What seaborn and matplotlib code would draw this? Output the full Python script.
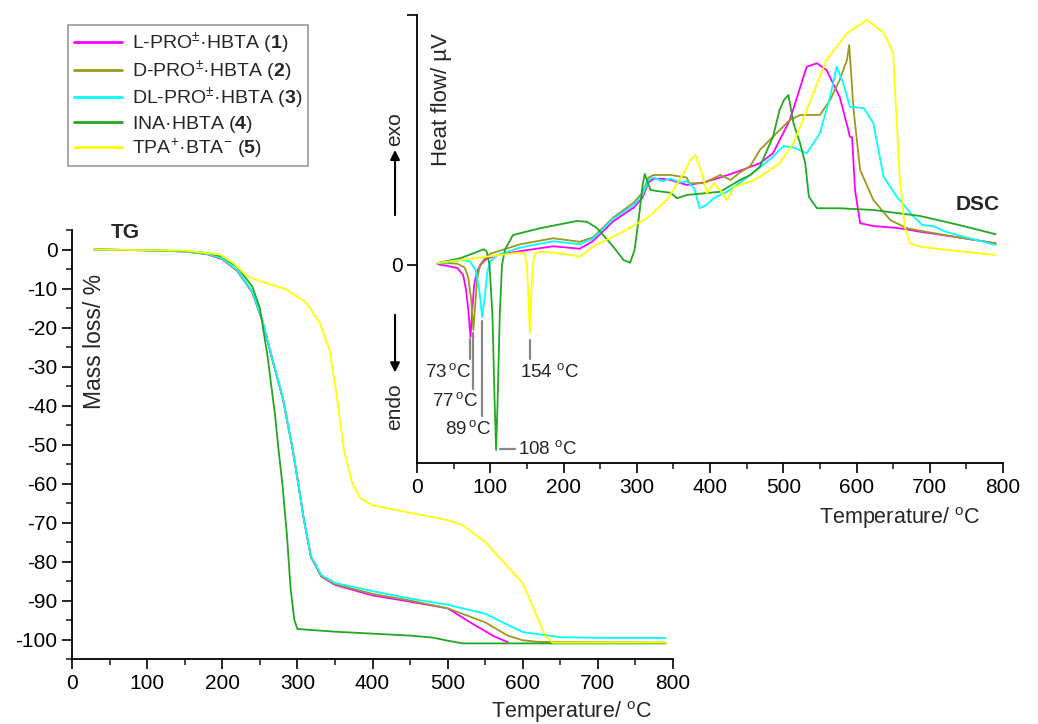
import numpy as np
import pandas as pd
import matplotlib
matplotlib.use("Agg")
import matplotlib.pyplot as plt
from matplotlib.lines import Line2D
from matplotlib.ticker import MultipleLocator, FixedLocator
import seaborn as sns

sns.set_theme(style="ticks")
plt.rcParams['font.family'] = ['Liberation Sans', 'DejaVu Sans']
plt.rcParams['mathtext.fontset'] = 'custom'
plt.rcParams['mathtext.rm'] = 'Liberation Sans'
plt.rcParams['mathtext.bf'] = 'Liberation Sans:bold'
plt.rcParams['mathtext.it'] = 'Liberation Sans:italic'
plt.rcParams['axes.unicode_minus'] = False

# ---------------- data ----------------
samples = ["1", "2", "3", "4", "5"]
labels = [r"L-PRO$\mathregular{^{\pm}}$·HBTA ($\mathbf{1}$)",
          r"D-PRO$\mathregular{^{\pm}}$·HBTA ($\mathbf{2}$)",
          r"DL-PRO$\mathregular{^{\pm}}$·HBTA ($\mathbf{3}$)",
          r"INA·HBTA ($\mathbf{4}$)",
          r"TPA$\mathregular{^{+}}$·BTA$\mathregular{^{-}}$ ($\mathbf{5}$)"]
colors = ["#FF00FF", "#9A9A22", "#00FFFF", "#22A822", "#FFFF00"]

# TG (mass loss %)
tg_T1 = [30, 100, 150, 180, 200, 220, 240, 253, 265, 281, 294, 302, 308, 318, 332, 350, 400, 450, 500, 530, 560, 580]
tg_m1 = [0, -0.2, -0.5, -1.2, -2.5, -5.5, -11, -18, -27, -38.5, -51.5, -61, -68.5, -78.8, -83.9, -86, -88.7, -90.3, -92, -95.6, -99, -100.7]
tg_T2 = [30, 100, 150, 180, 200, 220, 240, 253, 265, 281, 294, 302, 308, 318, 332, 350, 400, 450, 500, 550, 580, 600, 620, 790]
tg_m2 = [0, -0.2, -0.5, -1.2, -2.4, -5.4, -11, -18, -27, -38.5, -51.5, -61, -68.5, -78.8, -83.8, -85.8, -88.3, -90, -92, -95.6, -99, -100.2, -100.6, -100.8]
tg_T3 = [30, 100, 150, 180, 200, 220, 240, 253, 265, 281, 294, 302, 308, 318, 332, 350, 400, 450, 500, 550, 600, 650, 700, 790]
tg_m3 = [0, -0.2, -0.5, -1.1, -2.3, -5.3, -10.8, -17.8, -26.8, -38.3, -51.5, -61, -68.5, -78.6, -83.5, -85.5, -87.6, -89.5, -91.1, -93.4, -98.1, -99.4, -99.6, -99.6]
tg_T4 = [30, 100, 150, 180, 200, 220, 240, 250, 260, 270, 275, 280, 286, 291, 296, 300, 350, 400, 450, 480, 500, 520, 790]
tg_m4 = [0, -0.2, -0.4, -0.9, -1.8, -4.5, -9.5, -15, -27, -42, -51.5, -60, -73, -87, -95, -97.3, -98, -98.5, -99, -99.5, -100.3, -101, -101]
tg_T5 = [30, 150, 197, 215, 233, 250, 270, 286, 312, 330, 343, 352, 362, 373, 384, 400, 450, 500, 520, 550, 600, 630, 640, 790]
tg_m5 = [0, -0.3, -1.3, -3.5, -6.9, -8.1, -9.3, -10.3, -13.7, -18.9, -26, -37, -51.5, -60, -63.8, -65.6, -67.5, -69.4, -70.7, -75, -85.6, -99.1, -100.8, -100.8]

# DSC (heat flow, arbitrary units)
dsc_T1 = [28, 40, 55, 63, 67, 70, 73, 75, 78, 82, 88, 95, 110, 140, 186, 222, 240, 268, 296, 308, 316, 323, 335, 346, 368, 380, 391, 414, 441, 468, 486, 509, 532, 546, 559, 577, 588, 591, 594, 598, 605, 623, 659, 687, 740, 790]
dsc_u1 = [0.3, -0.3, -1.2, -4, -10, -18, -28.8, -20, -8, -2.5, 0.5, 2.5, 4, 5.5, 7.5, 6.5, 9.5, 17.5, 23, 27, 33, 34.5, 34.5, 34, 32, 32.5, 33, 35, 37.7, 40.7, 44.7, 58, 79.3, 80.7, 78, 67.3, 55, 51.3, 51, 30, 16.7, 15.6, 14.7, 13.3, 11, 8.7]
dsc_T2 = [28, 40, 55, 65, 70, 74, 77, 79, 82, 86, 92, 100, 141, 186, 222, 240, 268, 296, 308, 316, 323, 346, 368, 372, 391, 414, 428, 441, 455, 468, 486, 509, 523, 550, 564, 577, 587, 590, 596, 605, 623, 646, 669, 687, 740, 790]
dsc_u2 = [0.6, 0.8, 0.5, -1, -5, -14, -26, -18, -6, 0, 2.5, 4.5, 8.3, 10.7, 9.3, 11, 19, 25, 29, 35, 36, 36, 35, 32.7, 32.7, 36, 34, 37, 39.6, 46, 51.3, 58, 60, 60, 66, 74, 82, 88, 62, 38, 26, 18, 14.7, 13.7, 11, 8.7]
dsc_T3 = [28, 45, 60, 72, 80, 85, 89, 92, 96, 100, 110, 141, 186, 222, 240, 268, 296, 308, 316, 323, 335, 346, 360, 368, 378, 386, 395, 405, 423, 441, 455, 486, 500, 514, 532, 550, 564, 573, 582, 591, 610, 623, 637, 655, 678, 690, 705, 720, 750, 790]
dsc_u3 = [0.6, 1.2, 2, 1.5, -2, -10, -20.8, -14, -3, 1.5, 4, 7, 9.5, 8.3, 10.5, 18.5, 24, 28, 34, 35, 33.5, 34.5, 33, 33.5, 31, 22.7, 24, 26.7, 29.3, 33, 36, 43.3, 47.6, 47, 44.7, 52.7, 67.3, 79.3, 72.7, 63.3, 62.7, 56.7, 35.3, 27.3, 19.3, 16, 15.5, 13.5, 11, 8]
dsc_T4 = [28, 59, 80, 91, 95, 99, 103, 106, 108, 110, 113, 116, 120, 131, 168, 218, 232, 246, 268, 282, 291, 297, 303, 308, 311, 315, 319, 330, 346, 355, 368, 414, 441, 455, 468, 486, 495, 501, 507, 514, 523, 530, 535, 546, 577, 623, 687, 740, 790]
dsc_u4 = [0.8, 2.7, 5, 6.3, 5.5, 0, -20, -55, -74, -55, -20, 0, 6, 12, 14.7, 17.6, 17.3, 14.7, 7.3, 2, 0.9, 6, 19.3, 32, 36.4, 33, 30, 29.5, 28.9, 26.7, 28, 29.3, 34, 36, 39.3, 51.3, 62, 66, 68, 56.7, 48.7, 40.7, 27.3, 22.7, 22.7, 22, 19.6, 16, 12.3]
dsc_T5 = [28, 60, 100, 140, 147, 150, 152, 154, 156, 158, 161, 168, 186, 210, 222, 240, 277, 314, 341, 364, 373, 380, 389, 396, 405, 414, 423, 433, 455, 468, 495, 514, 532, 559, 587, 614, 637, 650, 654, 659, 666, 673, 687, 740, 790]
dsc_u5 = [0.8, 2, 3.5, 5, 4.5, 0, -12, -27.2, -12, 0, 4.5, 5.3, 5, 4, 3.3, 7.3, 12.7, 18.7, 26, 36.7, 42, 44, 36.7, 28.7, 32.7, 30, 26, 31.3, 33.3, 35.3, 40.7, 48.7, 62, 82, 92.7, 98, 93, 84.7, 62, 35.3, 15.3, 8.7, 7.3, 5.5, 4]

peak_T = [73, 77, 89, 108, 154]
peak_u = [-28.8, -26, -20.8, -74, -27.2]

tick_x = [0, 100, 200, 300, 400, 500, 600, 700, 800]
tick_tg = [0, -10, -20, -30, -40, -50, -60, -70, -80, -90, -100]

tg_df = pd.concat([pd.DataFrame({"T": t, "m": m, "s": s}) for t, m, s in
                   zip([tg_T1, tg_T2, tg_T3, tg_T4, tg_T5], [tg_m1, tg_m2, tg_m3, tg_m4, tg_m5], samples)])
dsc_df = pd.concat([pd.DataFrame({"T": t, "u": u, "s": s}) for t, u, s in
                    zip([dsc_T1, dsc_T2, dsc_T3, dsc_T4, dsc_T5], [dsc_u1, dsc_u2, dsc_u3, dsc_u4, dsc_u5], samples)])
pal = dict(zip(samples, colors))

W, H = 1038, 724
fig = plt.figure(figsize=(W / 100, H / 100), dpi=100)
fig.patch.set_facecolor("white")

def frac(l, t, r, b):
    return [l / W, 1 - b / H, (r - l) / W, (b - t) / H]

ax_tg = fig.add_axes(frac(72, 230, 673, 659))
ax_dsc = fig.add_axes(frac(417, 15, 1003, 463))
for ax in (ax_tg, ax_dsc):
    ax.set_facecolor("none")
    for sp in ("top", "right"):
        ax.spines[sp].set_visible(False)
    for sp in ("left", "bottom"):
        ax.spines[sp].set_linewidth(1.3)
        ax.spines[sp].set_color("black")
    ax.tick_params(which="major", direction="out", length=7.5, width=1.2, labelsize=15, colors="black", pad=3)
    ax.tick_params(which="minor", direction="out", length=4.5, width=1.2)
    ax.set_xlim(0, 800)
    ax.xaxis.set_major_locator(FixedLocator(tick_x))
    ax.xaxis.set_minor_locator(MultipleLocator(50))

# TG
sns.lineplot(data=tg_df, x="T", y="m", hue="s", palette=pal, estimator=None, sort=False,
             linewidth=1.3, legend=False, ax=ax_tg)
ax_tg.set_ylim(-105, 5)
ax_tg.yaxis.set_major_locator(FixedLocator(tick_tg))
ax_tg.yaxis.set_minor_locator(MultipleLocator(5))
ax_tg.set_xlabel("")
ax_tg.set_ylabel("")
ax_tg.text(0.965, -(718 - 659) / 429, r"Temperature/ $\mathregular{^{o}}$C", transform=ax_tg.transAxes,
           ha="right", va="baseline", fontsize=15.5)
ax_tg.text(0.038, 0.74, "Mass loss/ %", transform=ax_tg.transAxes, rotation=90,
           ha="center", va="center", fontsize=16.5)
ax_tg.text(0.088, 0.995, "TG", transform=ax_tg.transAxes, ha="center", va="center",
           fontsize=15, fontweight="bold")

# DSC
sns.lineplot(data=dsc_df, x="T", y="u", hue="s", palette=pal, estimator=None, sort=False,
             linewidth=1.3, legend=False, ax=ax_dsc)
ax_dsc.set_ylim(-79.2, 100)
ax_dsc.yaxis.set_major_locator(FixedLocator([0, 100]))
ax_dsc.set_yticklabels(["0", ""])
ax_dsc.set_xlabel("")
ax_dsc.set_ylabel("")
ax_dsc.text(0.961, -(524 - 463) / 448, r"Temperature/ $\mathregular{^{o}}$C", transform=ax_dsc.transAxes,
            ha="right", va="baseline", fontsize=15.5)
ax_dsc.text(0.041, 0.812, r"Heat flow/ µV", transform=ax_dsc.transAxes, rotation=90,
            ha="center", va="center", fontsize=16)
ax_dsc.text(0.956, 0.576, "DSC", transform=ax_dsc.transAxes, ha="center", va="center",
            fontsize=15, fontweight="bold")

# exo / endo arrows
ax_dsc.annotate("", xy=(-0.0375, 0.705), xytext=(-0.0375, 0.547), xycoords="axes fraction",
                arrowprops=dict(arrowstyle="-|>", color="black", lw=1.5, mutation_scale=14),
                annotation_clip=False)
ax_dsc.annotate("", xy=(-0.0375, 0.196), xytext=(-0.0375, 0.337), xycoords="axes fraction",
                arrowprops=dict(arrowstyle="-|>", color="black", lw=1.5, mutation_scale=14),
                annotation_clip=False)
ax_dsc.text(-0.0375, 0.745, "exo", transform=ax_dsc.transAxes, rotation=90,
            ha="center", va="center", fontsize=15, clip_on=False)
ax_dsc.text(-0.0375, 0.125, "endo", transform=ax_dsc.transAxes, rotation=90,
            ha="center", va="center", fontsize=15, clip_on=False)

# peak annotations
gray = "#888888"
deg = r"$\mathregular{\,^{o}}$C"
ann_fs = 13.5
ax_dsc.plot([peak_T[0], peak_T[0]], [-29.7, -37.7], color=gray, lw=1.6)
ax_dsc.text(peak_T[0] + 0.5, -42.7, f"{peak_T[0]}" + deg, ha="right", va="center", fontsize=ann_fs)
ax_dsc.plot([peak_T[1], peak_T[1]], [-27.3, -49.7], color=gray, lw=1.6)
ax_dsc.text(peak_T[1] + 7, -54.5, f"{peak_T[1]}" + deg, ha="right", va="center", fontsize=ann_fs)
ax_dsc.plot([peak_T[2], peak_T[2]], [-22.3, -60.4], color=gray, lw=1.6)
ax_dsc.text(peak_T[2] + 12, -65.5, f"{peak_T[2]}" + deg, ha="right", va="center", fontsize=ann_fs)
ax_dsc.plot([peak_T[3] + 5, peak_T[3] + 26], [-73.7, -73.7], color=gray, lw=1.6)
ax_dsc.text(peak_T[3] + 30, -73.7, f"{peak_T[3]} " + r"$\mathregular{^{o}}$C", ha="left", va="center", fontsize=ann_fs)
ax_dsc.plot([peak_T[4], peak_T[4]], [-30, -37.7], color=gray, lw=1.6)
ax_dsc.text(peak_T[4] - 13, -42.7, f"{peak_T[4]} " + r"$\mathregular{^{o}}$C", ha="left", va="center", fontsize=ann_fs)

# legend
handles = [Line2D([0], [0], color=c, lw=2) for c in colors]
leg = fig.legend(handles, labels, loc="upper left", bbox_to_anchor=(68 / W, 1 - 25 / H),
                 bbox_transform=fig.transFigure, frameon=True, fancybox=False,
                 fontsize=14, handlelength=2.5, handletextpad=0.5, labelspacing=0.12,
                 borderpad=0.3, borderaxespad=0.0)
leg.get_frame().set_edgecolor("#808080")
leg.get_frame().set_linewidth(1.2)

fig.savefig("out.png", dpi=100, facecolor="white")
